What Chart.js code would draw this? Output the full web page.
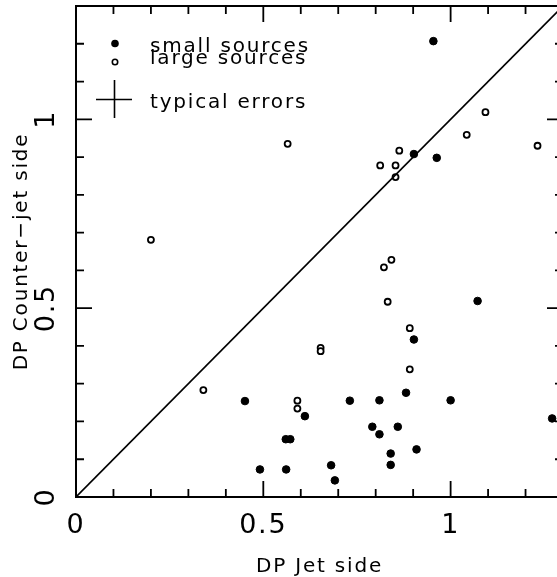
<!DOCTYPE html>
<html>
<head>
<meta charset="utf-8">
<script src="https://cdn.jsdelivr.net/npm/chart.js@4/dist/chart.umd.min.js"></script>
<style>
  html, body { margin: 0; padding: 0; background: #fff; overflow: hidden; }
  #wrap { position: absolute; left: 0; top: 0; width: 570px; height: 577px; }
</style>
</head>
<body>
<div id="wrap"><canvas id="c" width="570" height="577"></canvas></div>
<script>
// ---- data ----
const smallX = [0.954, 0.902, 0.963, 0.451, 0.611, 0.560, 0.572, 0.491, 0.561, 1.072, 0.902, 0.881, 0.731, 0.810, 1.000, 1.271, 0.791, 0.810, 0.859, 0.909, 0.840, 0.840, 0.681, 0.691];
const smallY = [1.207, 0.908, 0.898, 0.254, 0.214, 0.153, 0.153, 0.073, 0.073, 0.519, 0.417, 0.276, 0.255, 0.256, 0.256, 0.208, 0.186, 0.166, 0.186, 0.126, 0.115, 0.085, 0.084, 0.044];
const largeX = [0.812, 0.853, 0.863, 0.853, 1.043, 1.093, 1.232, 0.565, 0.200, 0.340, 0.591, 0.591, 0.842, 0.822, 0.832, 0.891, 0.653, 0.653, 0.891];
const largeY = [0.878, 0.878, 0.917, 0.847, 0.959, 1.019, 0.930, 0.935, 0.681, 0.283, 0.255, 0.234, 0.628, 0.608, 0.517, 0.447, 0.395, 0.386, 0.338];
const diagX = [0, 1.3];
const diagY = [0, 1.3];
const tickValues = [0, 0.5, 1];
const tickLabels = ['0', '0.5', '1'];
const axisMin = 0, axisMax = 1.3;
const xTitle = 'DP Jet side';
const yTitle = 'DP Counter\u2212jet side';
const legendLabels = ['small sources', 'large sources', 'typical errors'];

const toPts = (xs, ys) => xs.map((x, i) => ({ x: x, y: ys[i] }));
const FONT = "'DejaVu Sans', sans-serif";

const framePlugin = {
  id: 'frame',
  beforeDraw(chart) {
    chart.ctx.letterSpacing = '1.8px';
  },
  afterDraw(chart) {
    const ctx = chart.ctx;
    const a = chart.chartArea;
    const xs = chart.scales.x, ys = chart.scales.y;
    ctx.save();
    ctx.strokeStyle = '#000';
    ctx.lineWidth = 2;
    ctx.strokeRect(a.left, a.top, a.right - a.left, a.bottom - a.top);
    // inward ticks
    ctx.lineWidth = 1.8;
    ctx.beginPath();
    for (let i = 0; i <= 13; i++) {
      const v = i / 10;
      const major = (i % 5 === 0);
      const len = major ? 16 : 8;
      const px = xs.getPixelForValue(v);
      const py = ys.getPixelForValue(v);
      ctx.moveTo(px, a.bottom); ctx.lineTo(px, a.bottom - len);
      ctx.moveTo(px, a.top); ctx.lineTo(px, a.top + len);
      ctx.moveTo(a.left, py); ctx.lineTo(a.left + len, py);
      ctx.moveTo(a.right, py); ctx.lineTo(a.right - len, py);
    }
    ctx.stroke();

    // legend
    ctx.fillStyle = '#000';
    ctx.beginPath();
    ctx.arc(115, 43.5, 3.8, 0, Math.PI * 2);
    ctx.fill();
    ctx.beginPath();
    ctx.lineWidth = 1.6;
    ctx.arc(115, 62, 2.7, 0, Math.PI * 2);
    ctx.stroke();
    ctx.lineWidth = 1.6;
    ctx.beginPath();
    ctx.moveTo(96, 99.5); ctx.lineTo(132, 99.5);
    ctx.moveTo(114.5, 80); ctx.lineTo(114.5, 118);
    ctx.stroke();

    ctx.font = '20px ' + FONT;
    ctx.letterSpacing = '1.8px';
    ctx.textAlign = 'left';
    ctx.textBaseline = 'alphabetic';
    ctx.fillText(legendLabels[0], 150, 52);
    ctx.fillText(legendLabels[1], 150, 64);
    ctx.fillText(legendLabels[2], 150, 108);
    ctx.restore();
    ctx.letterSpacing = '0px';
  }
};

new Chart(document.getElementById('c'), {
  type: 'scatter',
  data: {
    datasets: [
      {
        type: 'line',
        data: toPts(diagX, diagY),
        borderColor: '#000',
        borderWidth: 1.6,
        pointRadius: 0,
        fill: false,
        tension: 0
      },
      {
        data: toPts(smallX, smallY),
        backgroundColor: '#000',
        borderColor: '#000',
        pointRadius: 3.8,
        pointBorderWidth: 1,
        pointHoverRadius: 3.8
      },
      {
        data: toPts(largeX, largeY),
        backgroundColor: '#fff',
        borderColor: '#000',
        pointRadius: 3,
        pointBorderWidth: 1.8,
        pointHoverRadius: 3
      }
    ]
  },
  options: {
    responsive: false,
    animation: false,
    events: [],
    layout: { padding: { left: 0, right: 7, top: 6, bottom: 0 } },
    plugins: { legend: { display: false }, tooltip: { enabled: false } },
    scales: {
      x: {
        type: 'linear',
        min: axisMin, max: axisMax,
        grid: { display: false, drawTicks: false },
        border: { display: false },
        afterBuildTicks: s => { s.ticks = tickValues.map(v => ({ value: v })); },
        afterFit: s => { s.height = 80; s.paddingLeft = 0; s.paddingRight = 0; s.paddingTop = 0; s.paddingBottom = 0; },
        ticks: {
          autoSkip: false,
          maxRotation: 0, minRotation: 0,
          padding: 13,
          color: '#000',
          font: { family: FONT, size: 27 },
          callback: (v, i) => tickLabels[i]
        },
        title: {
          display: true,
          text: xTitle,
          color: '#000',
          font: { family: FONT, size: 20, lineHeight: 1 },
          padding: { top: 0, bottom: 0 }
        }
      },
      y: {
        type: 'linear',
        min: axisMin, max: axisMax,
        grid: { display: false, drawTicks: false },
        border: { display: false },
        afterBuildTicks: s => { s.ticks = tickValues.map(v => ({ value: v })); },
        afterFit: s => { s.width = 76; s.paddingLeft = 0; s.paddingRight = 0; s.paddingTop = 0; s.paddingBottom = 0; },
        ticks: {
          autoSkip: false,
          minRotation: 90, maxRotation: 90,
          crossAlign: 'center',
          padding: 8,
          color: '#000',
          font: { family: FONT, size: 27 },
          callback: (v, i) => tickLabels[i]
        },
        title: {
          display: true,
          text: yTitle,
          color: '#000',
          font: { family: FONT, size: 20, lineHeight: 1 },
          padding: { top: 12, bottom: 0 }
        }
      }
    }
  },
  plugins: [framePlugin]
});
</script>
</body>
</html>
